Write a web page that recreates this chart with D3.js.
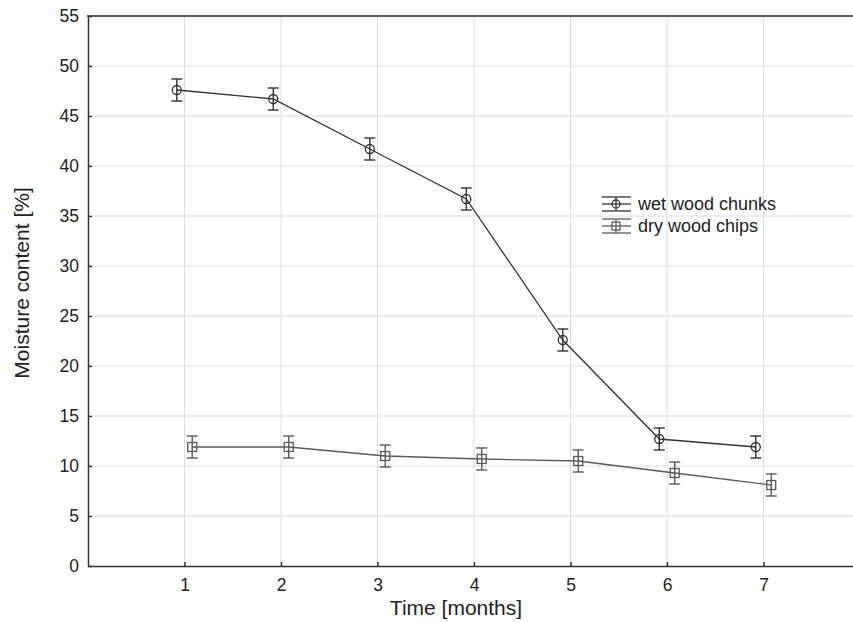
<!DOCTYPE html>
<html><head><meta charset="utf-8">
<script src="https://cdn.jsdelivr.net/npm/d3@7"></script>
<style>body{margin:0;background:#fff}svg{display:block}text{font-family:"Liberation Sans",Arial,sans-serif;fill:#222}</style>
</head><body><svg id="c" width="853" height="622"></svg>
<script>
const months = [1,2,3,4,5,6,7];
const wetMean = [47.6,46.7,41.7,36.7,22.6,12.7,11.9];
const wetErr  = [1.1,1.1,1.1,1.1,1.1,1.1,1.1];
const dryMean = [11.9,11.9,11.0,10.7,10.5,9.3,8.1];
const dryErr  = [1.1,1.1,1.1,1.1,1.1,1.1,1.1];
const yTicks = [0,5,10,15,20,25,30,35,40,45,50,55];
const seriesNames = ["wet wood chunks","dry wood chips"];

const svg = d3.select("#c");
const x = d3.scaleLinear().domain([0,8]).range([88,860]);
const y = d3.scaleLinear().domain([0,55]).range([566,16]);
const axisCol = "#333";

// grid
svg.append("g").selectAll("line").data(yTicks.slice(1)).join("line")
  .attr("x1",88).attr("x2",860).attr("y1",d=>y(d)).attr("y2",d=>y(d))
  .attr("stroke","#dcdcdc").attr("stroke-width",1);
svg.append("g").selectAll("line").data(months).join("line")
  .attr("x1",d=>x(d)).attr("x2",d=>x(d)).attr("y1",16).attr("y2",566)
  .attr("stroke","#dcdcdc").attr("stroke-width",1);

// axes
const xAx = svg.append("g").attr("transform","translate(0,566)")
  .call(d3.axisBottom(x).tickValues(months).tickFormat(d3.format("d")).tickSizeInner(-4).tickSizeOuter(0).tickPadding(13));
const yAx = svg.append("g").attr("transform","translate(88,0)")
  .call(d3.axisLeft(y).tickValues(yTicks).tickSizeInner(-4).tickSizeOuter(0).tickPadding(9));
[xAx,yAx].forEach(a=>{
  a.select(".domain").attr("stroke",axisCol).attr("stroke-width",1.5);
  a.selectAll(".tick line").attr("stroke",axisCol).attr("stroke-width",1.5);
  a.selectAll(".tick text").attr("font-size",17.5).attr("fill","#222").attr("font-family","Liberation Sans, Arial, sans-serif");
});
// top frame
svg.append("line").attr("x1",87).attr("x2",853).attr("y1",y(55)).attr("y2",y(55)).attr("stroke",axisCol).attr("stroke-width",1.5);

// titles
svg.append("text").attr("x",456).attr("y",615).attr("text-anchor","middle").attr("font-size",21).text("Time [months]");
svg.append("text").attr("transform","translate(29,283) rotate(-90)").attr("text-anchor","middle").attr("font-size",21).text("Moisture content [%]");

function drawSeries(means, errs, off, shape, col){
  const pts = months.map((m,i)=>({px:x(m+off), v:means[i], e:errs[i]}));
  svg.append("path").datum(pts)
    .attr("d", d3.line().x(d=>d.px).y(d=>y(d.v)))
    .attr("fill","none").attr("stroke",col).attr("stroke-width",1.3);
  const g = svg.append("g").selectAll("g").data(pts).join("g");
  g.append("line").attr("x1",d=>d.px).attr("x2",d=>d.px).attr("y1",d=>y(d.v+d.e)).attr("y2",d=>y(d.v-d.e)).attr("stroke",col).attr("stroke-width",1.4);
  g.append("line").attr("x1",d=>d.px-5.5).attr("x2",d=>d.px+5.5).attr("y1",d=>y(d.v+d.e)).attr("y2",d=>y(d.v+d.e)).attr("stroke",col).attr("stroke-width",1.4);
  g.append("line").attr("x1",d=>d.px-5.5).attr("x2",d=>d.px+5.5).attr("y1",d=>y(d.v-d.e)).attr("y2",d=>y(d.v-d.e)).attr("stroke",col).attr("stroke-width",1.4);
  if(shape==="circle"){
    g.append("circle").attr("cx",d=>d.px).attr("cy",d=>y(d.v)).attr("r",4.5).attr("fill","none").attr("stroke",col).attr("stroke-width",1.3);
  } else {
    g.append("rect").attr("x",d=>d.px-4.5).attr("y",d=>y(d.v)-4.5).attr("width",9).attr("height",9).attr("fill","none").attr("stroke",col).attr("stroke-width",1.3);
  }
}
drawSeries(wetMean, wetErr, -0.08, "circle", "#333");
drawSeries(dryMean, dryErr, 0.08, "rect", "#5a5a5a");

// legend
const leg = svg.append("g");
[["circle","#333"],["rect","#5a5a5a"]].forEach((s,i)=>{
  const cy = 204 + i*22, cx = 616, col = s[1];
  [-7,0,7].forEach(dy=>leg.append("line").attr("x1",602).attr("x2",631).attr("y1",cy+dy).attr("y2",cy+dy).attr("stroke",col).attr("stroke-width",1.3));
  leg.append("line").attr("x1",cx).attr("x2",cx).attr("y1",cy-7).attr("y2",cy+7).attr("stroke",col).attr("stroke-width",1.3);
  if(s[0]==="circle") leg.append("circle").attr("cx",cx).attr("cy",cy).attr("r",4).attr("fill","none").attr("stroke",col).attr("stroke-width",1.3);
  else leg.append("rect").attr("x",cx-4).attr("y",cy-4).attr("width",8).attr("height",8).attr("fill","none").attr("stroke",col).attr("stroke-width",1.3);
  leg.append("text").attr("x",638).attr("y",cy+6).attr("font-size",18).text(seriesNames[i]);
});
</script></body></html>
